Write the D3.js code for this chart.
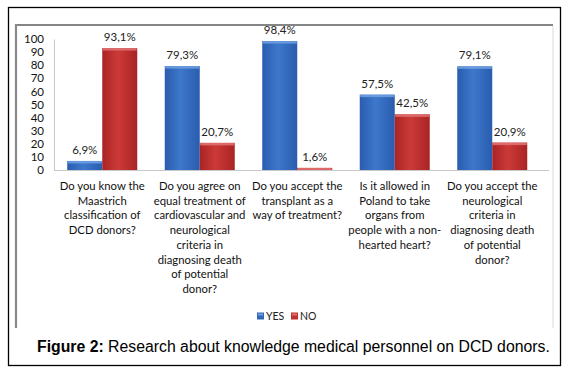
<!DOCTYPE html>
<html><head><meta charset="utf-8">
<script src="https://cdn.jsdelivr.net/npm/d3@7"></script>
<style>
body{margin:0;background:#fff;}
svg text{font-family:Lato, "Open Sans", sans-serif;}
</style></head>
<body><svg id="c" width="568" height="373"></svg>
<script>
const categories = [
  ["Do you know the","Maastrich","classification of","DCD donors?"],
  ["Do you agree on","equal treatment of","cardiovascular and","neurological","criteria in","diagnosing death","of potential","donor?"],
  ["Do you accept the","transplant as a","way of treatment?"],
  ["Is it allowed in","Poland to take","organs from","people with a non-","hearted heart?"],
  ["Do you accept the","neurological","criteria in","diagnosing death","of potential","donor?"]
];
const yesValues = [6.9, 79.3, 98.4, 57.5, 79.1];
const noValues  = [93.1, 20.7, 1.6, 42.5, 20.9];
const seriesNames = ["YES","NO"];
const yTicks = [0,10,20,30,40,50,60,70,80,90,100];
const caption = ["Figure 2:", " Research about knowledge medical personnel on DCD donors."];

const svg = d3.select("#c");
const defs = svg.append("defs");
function grad(id, edge, mid){
  const g = defs.append("linearGradient").attr("id",id).attr("x1","0").attr("x2","1").attr("y1","0").attr("y2","0");
  g.append("stop").attr("offset","0").attr("stop-color",edge);
  g.append("stop").attr("offset","0.45").attr("stop-color",mid);
  g.append("stop").attr("offset","1").attr("stop-color",edge);
}
grad("gBlue","#2a5cae","#3d78cc");
grad("gRed","#a82424","#cc3a38");
const colors = {YES:{fill:"url(#gBlue)",top:"#6d9de0",solid:"#3466b8"}, NO:{fill:"url(#gRed)",top:"#e07070",solid:"#c0302e"}};

// outer border
svg.append("rect").attr("x",8.5).attr("y",7.5).attr("width",552).attr("height",358).attr("fill","none").attr("stroke","#000").attr("stroke-width",1.3);
// inner frame
svg.append("line").attr("x1",16).attr("x2",553).attr("y1",25).attr("y2",25).attr("stroke","#858585").attr("stroke-width",2.2);
svg.append("line").attr("x1",16).attr("x2",16).attr("y1",24).attr("y2",328).attr("stroke","#8a8a8a").attr("stroke-width",2.2);
svg.append("line").attr("x1",553).attr("x2",553).attr("y1",26).attr("y2",328).attr("stroke","#e6e6e6").attr("stroke-width",1.5);

const y = d3.scaleLinear().domain([0,100]).range([170,39]);
const x = d3.scaleBand().domain(d3.range(categories.length)).range([53.5,541]).paddingInner(0).paddingOuter(0);
const xs = d3.scaleBand().domain(seriesNames).range([0,70]).paddingInner(0);
const barOffset = (x.bandwidth()-70)/2;

// y axis
const yAxis = d3.axisLeft(y).tickValues(yTicks).tickSize(0).tickPadding(10).tickFormat(d3.format("d"));
const ga = svg.append("g").attr("transform","translate(54,0)").call(yAxis);
ga.select(".domain").attr("stroke","#c8c8c8").attr("stroke-width",1);
ga.selectAll("text").attr("font-size","11.5px").attr("fill","#111").attr("font-family","Lato, sans-serif");

// x axis line
svg.append("line").attr("x1",54).attr("x2",549).attr("y1",170.5).attr("y2",170.5).attr("stroke","#c8c8c8");

const data = categories.map((c,i)=>({i, vals:[{s:"YES",v:yesValues[i]},{s:"NO",v:noValues[i]}]}));
const groups = svg.selectAll("g.grp").data(data).enter().append("g").attr("class","grp")
  .attr("transform",d=>`translate(${x(d.i)+barOffset},0)`);
const bars = groups.selectAll("g.bar").data(d=>d.vals).enter().append("g");
bars.append("rect").attr("x",d=>xs(d.s)).attr("width",xs.bandwidth()).attr("y",d=>y(d.v)).attr("height",d=>y(0)-y(d.v))
  .attr("fill",d=>colors[d.s].fill);
bars.append("rect").attr("x",d=>xs(d.s)+0.5).attr("width",xs.bandwidth()-1).attr("y",d=>y(d.v)).attr("height",d=>Math.min(2.5,y(0)-y(d.v)))
  .attr("fill",d=>colors[d.s].top).attr("opacity",0.9);
bars.append("text").attr("x",d=>xs(d.s)+xs.bandwidth()/2).attr("y",d=>y(d.v)-7).attr("text-anchor","middle")
  .attr("font-size","11.5px").attr("fill","#222").text(d=>d3.format(".1f")(d.v).replace(".",",")+"%");

// category labels
const cl = svg.selectAll("text.cat").data(categories).enter().append("text").attr("class","cat")
  .attr("text-anchor","middle").attr("font-size","11.3px").attr("fill","#111");
cl.selectAll("tspan").data((d,i)=>d.map(l=>({l,i}))).enter().append("tspan")
  .attr("x",d=>x(d.i)+x.bandwidth()/2).attr("y",(d,j)=>190+j*14.7).text(d=>d.l);

// legend
const lg = svg.append("g");
const lx = [257,291];
seriesNames.forEach((s,k)=>{
  lg.append("rect").attr("x",lx[k]).attr("y",312.5).attr("width",7).attr("height",7).attr("fill",colors[s].solid);
  lg.append("rect").attr("x",lx[k]+1).attr("y",313.5).attr("width",5).attr("height",2).attr("fill",colors[s].top);
  lg.append("text").attr("x",lx[k]+9).attr("y",320).attr("font-size","10.5px").attr("fill","#222").text(s);
});

// caption
const cap = svg.append("text").attr("x",37).attr("y",352).attr("font-size","15.8px").attr("fill","#000")
  .style("font-family","'Liberation Sans', Arial, sans-serif");
cap.append("tspan").attr("font-weight","bold").text(caption[0]);
cap.append("tspan").text(caption[1]);
</script></body></html>
